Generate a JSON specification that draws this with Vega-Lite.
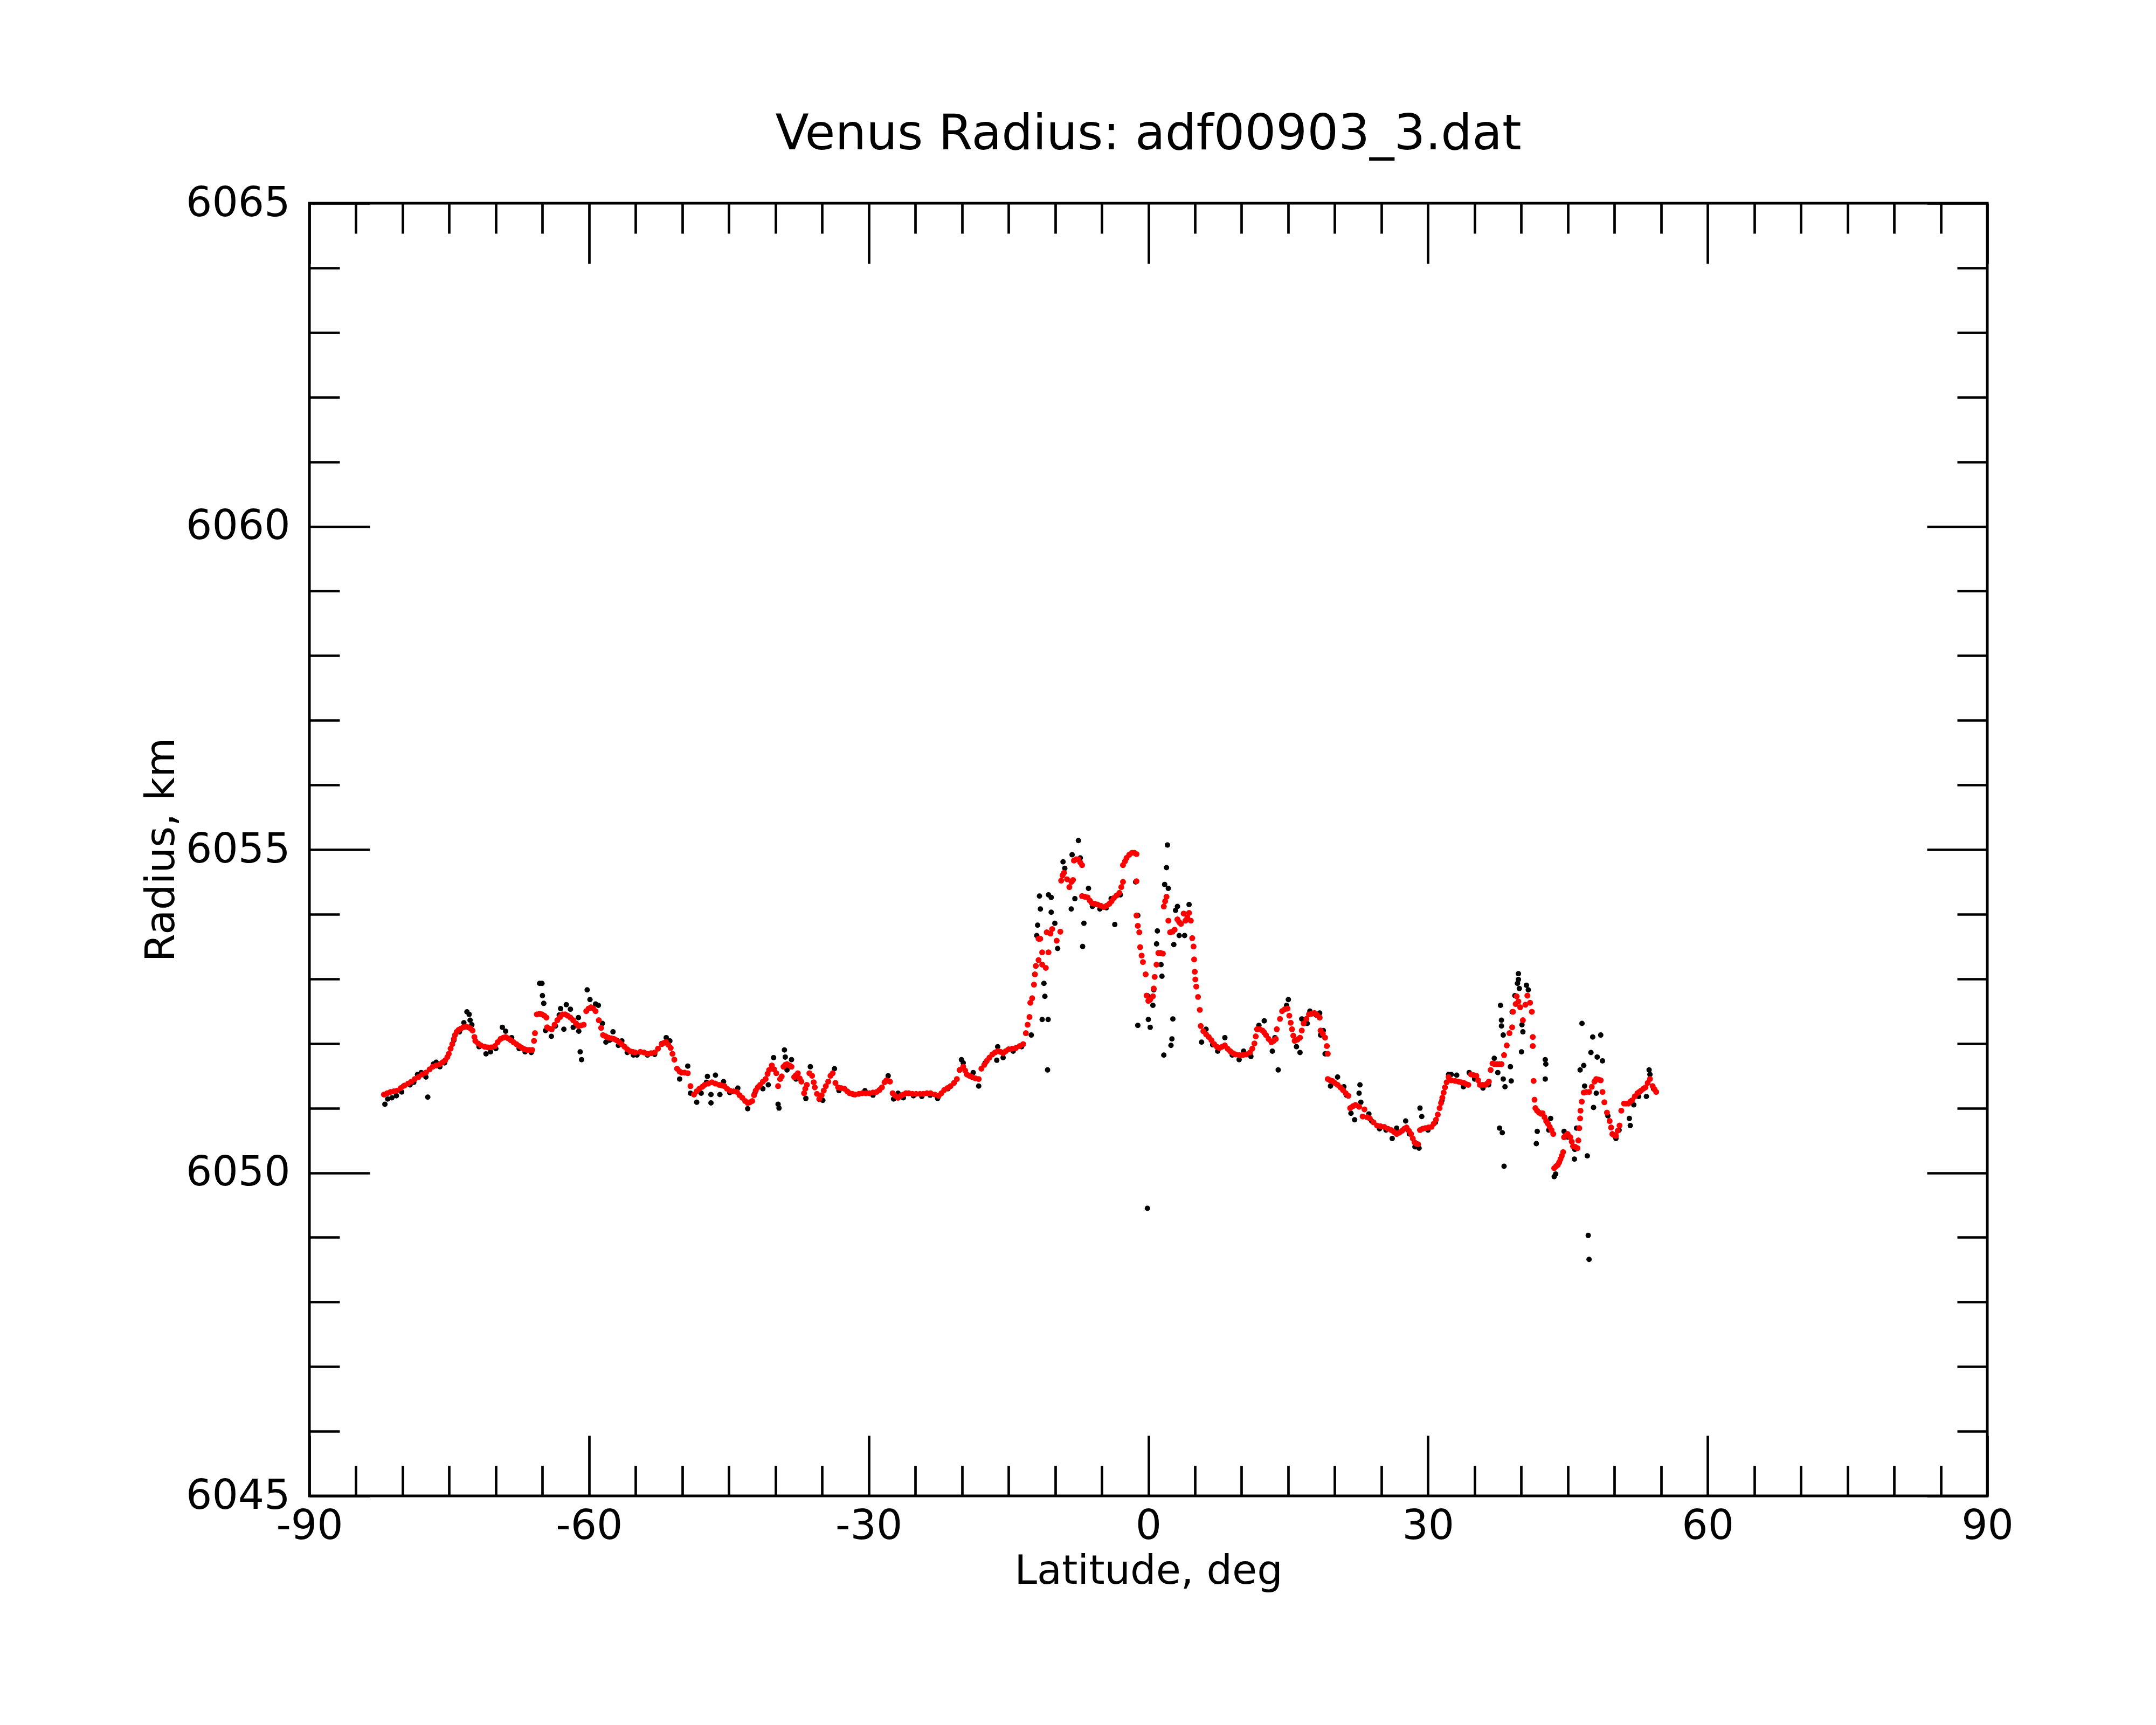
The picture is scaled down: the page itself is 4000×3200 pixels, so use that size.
{
  "$schema": "https://vega.github.io/schema/vega-lite/v6.json",
  "autosize": {"type": "none"},
  "padding": {"left": 574, "top": 377, "right": 313, "bottom": 425},
  "width": 3113,
  "height": 2398,
  "background": "white",
  "title": {
    "text": "Venus Radius: adf00903_3.dat",
    "fontSize": 91,
    "fontWeight": "normal",
    "font": "DejaVu Sans",
    "color": "black",
    "baseline": "alphabetic",
    "anchor": "middle",
    "frame": "group",
    "offset": -29
  },
  "datasets": {
    "black": [
      {"lat":-81.9,"r":6051.06},{"lat":-81.6,"r":6051.14},{"lat":-81.15,"r":6051.16},{"lat":-80.67,"r":6051.19},{"lat":-80.1,"r":6051.25},
      {"lat":-79.9,"r":6051.34},{"lat":-79.2,"r":6051.36},{"lat":-78.8,"r":6051.4},{"lat":-78.4,"r":6051.52},{"lat":-78.0,"r":6051.55},
      {"lat":-77.5,"r":6051.48},{"lat":-77.3,"r":6051.17},{"lat":-76.7,"r":6051.68},{"lat":-76.4,"r":6051.71},{"lat":-76.0,"r":6051.64},
      {"lat":-75.5,"r":6051.7},{"lat":-74.5,"r":6052.05},{"lat":-73.9,"r":6052.18},{"lat":-73.43,"r":6052.32},{"lat":-73.1,"r":6052.49},
      {"lat":-72.86,"r":6052.45},{"lat":-72.76,"r":6052.36},{"lat":-72.57,"r":6052.29},{"lat":-71.8,"r":6051.95},{"lat":-71.05,"r":6051.84},
      {"lat":-70.57,"r":6051.87},{"lat":-70.0,"r":6051.92},{"lat":-69.3,"r":6052.25},{"lat":-68.95,"r":6052.19},{"lat":-68.3,"r":6052.09},
      {"lat":-67.5,"r":6051.92},{"lat":-66.86,"r":6051.87},{"lat":-66.2,"r":6051.86},{"lat":-65.3,"r":6052.93},{"lat":-65.05,"r":6052.93},
      {"lat":-65.0,"r":6052.74},{"lat":-64.86,"r":6052.62},{"lat":-64.67,"r":6052.2},{"lat":-64.04,"r":6052.11},{"lat":-63.6,"r":6052.27},
      {"lat":-63.2,"r":6052.44},{"lat":-63.05,"r":6052.54},{"lat":-62.7,"r":6052.22},{"lat":-62.44,"r":6052.6},{"lat":-62.0,"r":6052.53},
      {"lat":-61.7,"r":6052.25},{"lat":-61.14,"r":6052.4},{"lat":-61.1,"r":6052.19},{"lat":-60.95,"r":6051.87},{"lat":-60.8,"r":6051.75},
      {"lat":-60.2,"r":6052.83},{"lat":-59.9,"r":6052.68},{"lat":-59.3,"r":6052.61},{"lat":-59.0,"r":6052.59},{"lat":-58.57,"r":6052.31},
      {"lat":-58.19,"r":6052.02},{"lat":-57.8,"r":6052.05},{"lat":-57.43,"r":6052.18},{"lat":-56.85,"r":6051.97},{"lat":-56.48,"r":6052.04},
      {"lat":-55.9,"r":6051.86},{"lat":-55.24,"r":6051.82},{"lat":-54.86,"r":6051.82},
      {"lat":-53.73,"r":6051.82},{"lat":-52.96,"r":6051.83},{"lat":-52.2,"r":6052.0},{"lat":-51.72,"r":6052.09},{"lat":-51.33,"r":6052.04},
      {"lat":-50.28,"r":6051.45},{"lat":-49.41,"r":6051.65},{"lat":-49.12,"r":6051.23},{"lat":-48.45,"r":6051.09},{"lat":-47.97,"r":6051.23},
      {"lat":-47.3,"r":6051.49},{"lat":-47.4,"r":6051.4},{"lat":-46.44,"r":6051.51},{"lat":-46.92,"r":6051.21},{"lat":-46.92,"r":6051.08},
      {"lat":-45.96,"r":6051.21},{"lat":-45.57,"r":6051.41},{"lat":-44.9,"r":6051.24},{"lat":-44.04,"r":6051.31},{"lat":-42.98,"r":6050.99},
      {"lat":-42.21,"r":6051.23},{"lat":-41.35,"r":6051.3},{"lat":-40.77,"r":6051.36},{"lat":-40.2,"r":6051.78},{"lat":-39.72,"r":6051.06},
      {"lat":-39.62,"r":6051.0},{"lat":-39.04,"r":6051.9},{"lat":-38.95,"r":6051.79},{"lat":-38.28,"r":6051.75},{"lat":-38.76,"r":6051.59},
      {"lat":-37.8,"r":6051.45},{"lat":-36.74,"r":6051.15},{"lat":-36.26,"r":6051.64},{"lat":-34.92,"r":6051.12},{"lat":-33.67,"r":6051.61},
      {"lat":-33.19,"r":6051.27},{"lat":-31.65,"r":6051.21},{"lat":-30.4,"r":6051.27},{"lat":-29.54,"r":6051.2},{"lat":-27.91,"r":6051.5},
      {"lat":-27.33,"r":6051.14},{"lat":-26.85,"r":6051.23},{"lat":-26.28,"r":6051.16},
      {"lat":-25.2,"r":6051.19},{"lat":-24.3,"r":6051.18},{"lat":-23.4,"r":6051.2},{"lat":-22.6,"r":6051.15},{"lat":-21.5,"r":6051.3},
      {"lat":-20.05,"r":6051.75},{"lat":-19.86,"r":6051.7},{"lat":-18.79,"r":6051.55},{"lat":-18.2,"r":6051.34},{"lat":-17.5,"r":6051.7},
      {"lat":-16.26,"r":6051.74},{"lat":-16.16,"r":6051.95},{"lat":-15.58,"r":6051.78},{"lat":-14.5,"r":6051.88},{"lat":-13.6,"r":6051.95},
      {"lat":-12.56,"r":6052.13},{"lat":-11.97,"r":6053.67},{"lat":-11.88,"r":6053.83},{"lat":-11.68,"r":6054.28},{"lat":-11.58,"r":6054.08},
      {"lat":-11.39,"r":6052.37},{"lat":-11.2,"r":6052.93},{"lat":-11.1,"r":6052.73},{"lat":-10.81,"r":6051.59},{"lat":-10.75,"r":6052.37},
      {"lat":-10.71,"r":6054.3},{"lat":-10.42,"r":6054.26},{"lat":-10.42,"r":6054.03},{"lat":-10.03,"r":6053.86},{"lat":-9.73,"r":6053.47},
      {"lat":-9.15,"r":6054.81},{"lat":-8.96,"r":6054.71},{"lat":-8.27,"r":6054.08},{"lat":-8.18,"r":6054.92},{"lat":-7.88,"r":6054.24},
      {"lat":-7.5,"r":6055.14},{"lat":-7.3,"r":6054.87},{"lat":-7.05,"r":6053.5},{"lat":-6.91,"r":6053.86},{"lat":-6.42,"r":6054.4},
      {"lat":-6.0,"r":6054.12},{"lat":-5.2,"r":6054.08},{"lat":-4.5,"r":6054.1},{"lat":-3.99,"r":6054.24},{"lat":-3.6,"r":6053.84},
      {"lat":-3.0,"r":6054.3},{"lat":-1.36,"r":6054.5},{"lat":-1.13,"r":6053.98},{"lat":-1.13,"r":6052.28},{"lat":-0.1,"r":6052.74},
      {"lat":0.16,"r":6052.67},{"lat":-0.1,"r":6049.45},{"lat":0.0,"r":6052.37},{"lat":0.2,"r":6052.25},{"lat":0.49,"r":6052.59},
      {"lat":0.58,"r":6052.83},{"lat":0.88,"r":6053.54},{"lat":0.97,"r":6053.74},{"lat":1.36,"r":6053.22},{"lat":1.46,"r":6053.04},
      {"lat":1.66,"r":6051.82},{"lat":1.75,"r":6054.46},{"lat":1.95,"r":6054.72},{"lat":2.05,"r":6055.07},{"lat":2.14,"r":6054.4},
      {"lat":2.43,"r":6051.97},{"lat":2.53,"r":6052.07},{"lat":2.63,"r":6052.38},{"lat":2.73,"r":6053.53},{"lat":2.92,"r":6054.06},
      {"lat":3.12,"r":6054.12},{"lat":3.31,"r":6053.67},
      {"lat":3.89,"r":6053.67},{"lat":4.37,"r":6054.15},{"lat":5.71,"r":6052.02},{"lat":6.19,"r":6052.22},{"lat":6.9,"r":6051.98},
      {"lat":7.44,"r":6051.88},{"lat":8.21,"r":6052.09},{"lat":9.0,"r":6051.82},{"lat":9.74,"r":6051.75},{"lat":10.22,"r":6051.88},
      {"lat":11.0,"r":6051.8},{"lat":11.86,"r":6052.28},{"lat":12.43,"r":6052.35},{"lat":13.3,"r":6051.88},{"lat":13.58,"r":6052.09},
      {"lat":13.93,"r":6051.59},{"lat":14.83,"r":6052.59},{"lat":15.02,"r":6052.68},{"lat":15.89,"r":6051.95},{"lat":16.27,"r":6051.86},
      {"lat":16.46,"r":6052.38},{"lat":17.04,"r":6052.31},{"lat":17.33,"r":6052.5},{"lat":18.0,"r":6052.44},{"lat":18.38,"r":6052.47},
      {"lat":18.48,"r":6052.13},{"lat":18.77,"r":6052.2},{"lat":18.96,"r":6051.84},{"lat":19.54,"r":6051.34},{"lat":20.3,"r":6051.48},
      {"lat":20.98,"r":6051.33},{"lat":21.26,"r":6051.2},{"lat":21.74,"r":6050.92},{"lat":22.13,"r":6050.82},{"lat":22.61,"r":6051.23},
      {"lat":22.7,"r":6051.36},{"lat":22.8,"r":6051.09},{"lat":23.66,"r":6050.91},{"lat":23.95,"r":6050.8},{"lat":24.8,"r":6050.68},
      {"lat":25.5,"r":6050.66},{"lat":26.16,"r":6050.53},{"lat":26.64,"r":6050.69},{"lat":27.6,"r":6050.8},{"lat":28.0,"r":6050.6},
      {"lat":28.6,"r":6050.4},{"lat":29.04,"r":6050.38},{"lat":29.14,"r":6051.0},{"lat":29.33,"r":6050.87},{"lat":30.0,"r":6050.66},
      {"lat":30.8,"r":6050.78},{"lat":31.5,"r":6051.12},{"lat":32.21,"r":6051.52},
      {"lat":32.5,"r":6051.52},{"lat":33.08,"r":6051.51},{"lat":33.8,"r":6051.33},{"lat":34.42,"r":6051.55},{"lat":35.0,"r":6051.45},
      {"lat":35.9,"r":6051.31},{"lat":36.5,"r":6051.36},{"lat":37.11,"r":6051.77},{"lat":37.49,"r":6051.55},{"lat":37.68,"r":6050.69},
      {"lat":37.78,"r":6052.59},{"lat":37.88,"r":6052.36},{"lat":37.88,"r":6052.27},{"lat":37.97,"r":6050.62},{"lat":38.07,"r":6052.13},
      {"lat":38.07,"r":6051.45},{"lat":38.16,"r":6050.1},{"lat":38.26,"r":6051.33},{"lat":38.84,"r":6051.64},{"lat":38.93,"r":6051.42},
      {"lat":39.03,"r":6052.49},{"lat":39.32,"r":6052.74},{"lat":39.6,"r":6052.93},{"lat":39.7,"r":6053.08},{"lat":39.7,"r":6052.99},
      {"lat":39.8,"r":6052.85},{"lat":40.03,"r":6051.87},{"lat":40.08,"r":6052.29},{"lat":40.18,"r":6052.18},{"lat":40.56,"r":6052.9},
      {"lat":40.76,"r":6052.83},{"lat":41.62,"r":6050.45},{"lat":41.72,"r":6050.96},{"lat":41.72,"r":6050.64},{"lat":42.1,"r":6050.91},
      {"lat":42.58,"r":6051.75},{"lat":42.64,"r":6051.68},{"lat":42.58,"r":6051.45},{"lat":42.96,"r":6050.66},{"lat":43.16,"r":6050.84},
      {"lat":43.54,"r":6049.94},{"lat":43.7,"r":6049.98},{"lat":44.6,"r":6050.64},{"lat":45.0,"r":6050.55},{"lat":45.71,"r":6050.21},
      {"lat":45.75,"r":6050.36},{"lat":45.94,"r":6050.69},{"lat":46.32,"r":6051.59},{"lat":46.52,"r":6052.31},{"lat":46.71,"r":6051.66},
      {"lat":46.8,"r":6051.34},{"lat":47.09,"r":6050.26},{"lat":47.19,"r":6049.03},{"lat":47.28,"r":6048.66},{"lat":47.48,"r":6051.86},
      {"lat":47.67,"r":6052.1},{"lat":47.76,"r":6051.01},{"lat":48.05,"r":6051.23},{"lat":48.15,"r":6051.79},{"lat":48.53,"r":6052.13},
      {"lat":48.72,"r":6051.73},{"lat":49.3,"r":6050.88},{"lat":50.16,"r":6050.53},{"lat":50.5,"r":6050.66},{"lat":51.6,"r":6050.84},
      {"lat":51.7,"r":6050.73},{"lat":52.08,"r":6051.05},{"lat":52.6,"r":6051.18},{"lat":53.43,"r":6051.18},{"lat":53.72,"r":6051.59},
      {"lat":53.81,"r":6051.52},{"lat":54.2,"r":6051.3}
    ],
    "red": [
      {"lat":-82.0,"r":6051.21},{"lat":-81.65,"r":6051.23},{"lat":-81.3,"r":6051.25},{"lat":-80.95,"r":6051.26},{"lat":-80.6,"r":6051.27},
      {"lat":-80.2,"r":6051.31},{"lat":-79.8,"r":6051.35},{"lat":-79.4,"r":6051.38},{"lat":-79.05,"r":6051.41},{"lat":-78.7,"r":6051.45},
      {"lat":-78.3,"r":6051.48},{"lat":-77.9,"r":6051.52},{"lat":-77.5,"r":6051.55},{"lat":-77.1,"r":6051.6},{"lat":-76.76,"r":6051.64},
      {"lat":-76.4,"r":6051.66},{"lat":-76.0,"r":6051.68},{"lat":-75.7,"r":6051.71},{"lat":-75.43,"r":6051.74},{"lat":-75.2,"r":6051.79},
      {"lat":-75.05,"r":6051.84},{"lat":-74.85,"r":6051.92},{"lat":-74.67,"r":6051.99},{"lat":-74.5,"r":6052.07},{"lat":-74.38,"r":6052.13},
      {"lat":-74.2,"r":6052.18},{"lat":-74.0,"r":6052.21},{"lat":-73.75,"r":6052.23},{"lat":-73.5,"r":6052.25},{"lat":-73.2,"r":6052.26},
      {"lat":-72.95,"r":6052.25},{"lat":-72.7,"r":6052.23},{"lat":-72.5,"r":6052.2},{"lat":-72.3,"r":6052.1},{"lat":-72.2,"r":6052.04},
      {"lat":-71.9,"r":6052.0},{"lat":-71.6,"r":6051.97},{"lat":-71.2,"r":6051.95},{"lat":-70.86,"r":6051.94},{"lat":-70.5,"r":6051.94},
      {"lat":-70.1,"r":6051.96},{"lat":-69.8,"r":6052.02},{"lat":-69.5,"r":6052.07},{"lat":-69.2,"r":6052.09},{"lat":-68.95,"r":6052.1},
      {"lat":-68.7,"r":6052.08},{"lat":-68.4,"r":6052.05},{"lat":-68.1,"r":6052.02},{"lat":-67.8,"r":6051.99},{"lat":-67.5,"r":6051.96},
      {"lat":-67.2,"r":6051.93},{"lat":-66.9,"r":6051.91},{"lat":-66.67,"r":6051.9},{"lat":-66.4,"r":6051.9},{"lat":-66.1,"r":6051.9},
      {"lat":-65.9,"r":6052.04},{"lat":-65.8,"r":6052.16},{"lat":-65.6,"r":6052.45},{"lat":-65.3,"r":6052.46},{"lat":-65.05,"r":6052.45},
      {"lat":-64.8,"r":6052.43},{"lat":-64.57,"r":6052.4},{"lat":-64.5,"r":6052.25},{"lat":-64.25,"r":6052.23},{"lat":-64.0,"r":6052.22},
      {"lat":-63.7,"r":6052.29},{"lat":-63.4,"r":6052.36},{"lat":-63.1,"r":6052.41},{"lat":-62.85,"r":6052.45},{"lat":-62.55,"r":6052.45},
      {"lat":-62.3,"r":6052.43},{"lat":-62.0,"r":6052.4},{"lat":-61.7,"r":6052.36},{"lat":-61.4,"r":6052.31},{"lat":-61.14,"r":6052.27},
      {"lat":-60.85,"r":6052.28},{"lat":-60.57,"r":6052.29},{"lat":-60.3,"r":6052.5},{"lat":-60.05,"r":6052.54},{"lat":-59.8,"r":6052.56},
      {"lat":-59.55,"r":6052.54},{"lat":-59.3,"r":6052.5},{"lat":-58.95,"r":6052.36},{"lat":-58.7,"r":6052.24},{"lat":-58.5,"r":6052.13},
      {"lat":-58.2,"r":6052.11},{"lat":-57.9,"r":6052.09},{"lat":-57.6,"r":6052.08},{"lat":-57.33,"r":6052.07},{"lat":-57.05,"r":6052.05},
      {"lat":-56.76,"r":6052.02},{"lat":-56.5,"r":6051.99},{"lat":-56.19,"r":6051.95},{"lat":-55.9,"r":6051.91},{"lat":-55.6,"r":6051.88},
      {"lat":-55.3,"r":6051.87},{"lat":-55.05,"r":6051.86},
      {"lat":-54.5,"r":6051.87},{"lat":-54.1,"r":6051.86},{"lat":-53.73,"r":6051.84},{"lat":-53.35,"r":6051.85},{"lat":-52.96,"r":6051.86},
      {"lat":-52.6,"r":6051.92},{"lat":-52.2,"r":6051.99},{"lat":-51.95,"r":6052.01},{"lat":-51.72,"r":6052.02},{"lat":-51.5,"r":6051.98},
      {"lat":-51.24,"r":6051.93},{"lat":-51.05,"r":6051.84},{"lat":-50.85,"r":6051.75},{"lat":-50.56,"r":6051.61},{"lat":-50.3,"r":6051.57},
      {"lat":-50.08,"r":6051.55},{"lat":-49.75,"r":6051.55},{"lat":-49.41,"r":6051.54},{"lat":-49.12,"r":6051.34},{"lat":-48.74,"r":6051.21},
      {"lat":-48.45,"r":6051.26},{"lat":-48.16,"r":6051.3},{"lat":-47.85,"r":6051.33},{"lat":-47.59,"r":6051.36},{"lat":-47.2,"r":6051.38},
      {"lat":-46.82,"r":6051.4},{"lat":-46.45,"r":6051.38},{"lat":-46.05,"r":6051.36},{"lat":-45.75,"r":6051.35},{"lat":-45.48,"r":6051.34},
      {"lat":-45.2,"r":6051.3},{"lat":-44.9,"r":6051.27},{"lat":-44.5,"r":6051.26},{"lat":-44.13,"r":6051.25},{"lat":-43.85,"r":6051.2},
      {"lat":-43.56,"r":6051.16},{"lat":-43.25,"r":6051.11},{"lat":-42.98,"r":6051.08},{"lat":-42.75,"r":6051.09},{"lat":-42.5,"r":6051.11},
      {"lat":-42.3,"r":6051.2},{"lat":-42.12,"r":6051.27},{"lat":-41.9,"r":6051.32},{"lat":-41.64,"r":6051.36},{"lat":-41.35,"r":6051.41},
      {"lat":-41.06,"r":6051.45},{"lat":-40.85,"r":6051.53},{"lat":-40.68,"r":6051.59},{"lat":-40.39,"r":6051.66},{"lat":-40.15,"r":6051.6},
      {"lat":-39.91,"r":6051.54},{"lat":-39.72,"r":6051.34},{"lat":-39.5,"r":6051.45},{"lat":-39.33,"r":6051.49},{"lat":-39.14,"r":6051.64},
      {"lat":-38.95,"r":6051.67},{"lat":-38.76,"r":6051.68},{"lat":-38.5,"r":6051.66},{"lat":-38.28,"r":6051.64},{"lat":-37.99,"r":6051.48},
      {"lat":-37.8,"r":6051.51},{"lat":-37.6,"r":6051.54},{"lat":-37.4,"r":6051.46},{"lat":-37.22,"r":6051.41},{"lat":-36.93,"r":6051.23},
      {"lat":-36.8,"r":6051.3},{"lat":-36.64,"r":6051.36},{"lat":-36.36,"r":6051.54},{"lat":-36.07,"r":6051.5},{"lat":-35.9,"r":6051.4},
      {"lat":-35.78,"r":6051.32},{"lat":-35.55,"r":6051.22},{"lat":-35.3,"r":6051.14},{"lat":-35.05,"r":6051.2},{"lat":-34.82,"r":6051.27},
      {"lat":-34.6,"r":6051.34},{"lat":-34.34,"r":6051.41},{"lat":-34.1,"r":6051.5},{"lat":-33.86,"r":6051.54},{"lat":-33.57,"r":6051.39},
      {"lat":-33.28,"r":6051.32},{"lat":-32.95,"r":6051.31},{"lat":-32.61,"r":6051.3},{"lat":-32.3,"r":6051.26},{"lat":-32.04,"r":6051.23},
      {"lat":-31.75,"r":6051.22},{"lat":-31.46,"r":6051.21},{"lat":-31.05,"r":6051.22},{"lat":-30.69,"r":6051.23},{"lat":-30.3,"r":6051.23},
      {"lat":-29.92,"r":6051.23},{"lat":-29.55,"r":6051.24},{"lat":-29.16,"r":6051.25},{"lat":-28.85,"r":6051.28},{"lat":-28.58,"r":6051.32},
      {"lat":-28.3,"r":6051.4},{"lat":-28.1,"r":6051.43},{"lat":-27.9,"r":6051.42},{"lat":-27.72,"r":6051.41},{"lat":-27.43,"r":6051.23},
      {"lat":-27.15,"r":6051.19},{"lat":-26.85,"r":6051.16},{"lat":-26.55,"r":6051.19},{"lat":-26.28,"r":6051.21},{"lat":-26.0,"r":6051.23},
      {"lat":-25.7,"r":6051.23},{"lat":-25.3,"r":6051.22},{"lat":-24.92,"r":6051.22},{"lat":-24.5,"r":6051.22},{"lat":-24.14,"r":6051.22},
      {"lat":-23.75,"r":6051.23},{"lat":-23.36,"r":6051.23},{"lat":-22.9,"r":6051.21},{"lat":-22.49,"r":6051.19},{"lat":-22.2,"r":6051.23},
      {"lat":-21.9,"r":6051.28},{"lat":-21.55,"r":6051.31},{"lat":-21.22,"r":6051.34},{"lat":-20.85,"r":6051.39},{"lat":-20.54,"r":6051.45},
      {"lat":-20.25,"r":6051.59},{"lat":-19.86,"r":6051.64},{"lat":-19.65,"r":6051.58},{"lat":-19.47,"r":6051.52},{"lat":-19.2,"r":6051.5},
      {"lat":-18.89,"r":6051.48},{"lat":-18.55,"r":6051.46},{"lat":-18.2,"r":6051.45},{"lat":-17.91,"r":6051.61},{"lat":-17.6,"r":6051.67},
      {"lat":-17.33,"r":6051.73},{"lat":-17.05,"r":6051.78},{"lat":-16.74,"r":6051.83},{"lat":-16.45,"r":6051.86},{"lat":-16.16,"r":6051.88},
      {"lat":-15.85,"r":6051.87},{"lat":-15.58,"r":6051.85},{"lat":-15.3,"r":6051.88},{"lat":-14.99,"r":6051.91},{"lat":-14.6,"r":6051.92},
      {"lat":-14.21,"r":6051.93},{"lat":-13.8,"r":6051.96},{"lat":-13.43,"r":6051.99},{"lat":-13.14,"r":6052.16},{"lat":-12.95,"r":6052.29},
      {"lat":-12.75,"r":6052.41},{"lat":-12.66,"r":6052.63},{"lat":-12.46,"r":6052.7},{"lat":-12.27,"r":6052.91},{"lat":-12.17,"r":6053.07},
      {"lat":-12.07,"r":6053.2},{"lat":-11.78,"r":6053.29},{"lat":-11.78,"r":6053.62},{"lat":-11.6,"r":6053.62},{"lat":-11.39,"r":6053.41},
      {"lat":-11.39,"r":6053.22},{"lat":-11.0,"r":6053.17},{"lat":-10.9,"r":6053.72},{"lat":-10.71,"r":6053.41},{"lat":-10.5,"r":6053.7},
      {"lat":-10.32,"r":6053.77},{"lat":-9.83,"r":6053.59},{"lat":-9.44,"r":6053.73},{"lat":-9.35,"r":6054.52},{"lat":-9.2,"r":6054.6},
      {"lat":-9.05,"r":6054.64},{"lat":-8.72,"r":6054.54},{"lat":-8.47,"r":6054.42},{"lat":-8.25,"r":6054.5},{"lat":-8.08,"r":6054.53},
      {"lat":-7.98,"r":6054.83},{"lat":-7.75,"r":6054.85},{"lat":-7.5,"r":6054.85},{"lat":-7.3,"r":6054.8},{"lat":-7.11,"r":6054.76},
      {"lat":-7.11,"r":6054.28},{"lat":-6.82,"r":6054.27},{"lat":-6.52,"r":6054.26},{"lat":-6.28,"r":6054.21},{"lat":-6.04,"r":6054.17},
      {"lat":-5.75,"r":6054.16},{"lat":-5.45,"r":6054.15},{"lat":-5.1,"r":6054.13},{"lat":-4.77,"r":6054.11},{"lat":-4.48,"r":6054.13},
      {"lat":-4.19,"r":6054.16},{"lat":-3.95,"r":6054.2},{"lat":-3.7,"r":6054.25},{"lat":-3.4,"r":6054.29},{"lat":-3.11,"r":6054.33},
      {"lat":-2.9,"r":6054.42},{"lat":-2.72,"r":6054.5},{"lat":-2.72,"r":6054.76},{"lat":-2.5,"r":6054.82},{"lat":-2.34,"r":6054.87},
      {"lat":-2.05,"r":6054.92},{"lat":-1.75,"r":6054.95},{"lat":-1.5,"r":6054.95},{"lat":-1.27,"r":6054.93},{"lat":-1.27,"r":6054.51},
      {"lat":-1.27,"r":6053.98},{"lat":-1.13,"r":6053.82},{"lat":-0.97,"r":6053.72},{"lat":-0.88,"r":6053.49},{"lat":-0.72,"r":6053.36},
      {"lat":-0.58,"r":6053.26},{"lat":-0.29,"r":6053.07},{"lat":-0.19,"r":6052.74},{"lat":0.0,"r":6052.66},{"lat":0.2,"r":6052.68},
      {"lat":0.49,"r":6052.73},{"lat":0.58,"r":6052.85},{"lat":0.68,"r":6053.03},{"lat":0.88,"r":6053.22},{"lat":1.07,"r":6053.4},
      {"lat":1.3,"r":6053.4},{"lat":1.56,"r":6053.39},{"lat":1.66,"r":6054.12},{"lat":1.8,"r":6054.2},{"lat":1.95,"r":6054.27},
      {"lat":2.15,"r":6053.9},{"lat":2.34,"r":6053.72},{"lat":2.6,"r":6053.73},{"lat":2.82,"r":6053.76},{"lat":3.12,"r":6053.92},
      {"lat":3.3,"r":6053.88},{"lat":3.5,"r":6053.85},
      {"lat":3.79,"r":6054.01},{"lat":3.98,"r":6053.9},{"lat":4.18,"r":6053.95},{"lat":4.37,"r":6054.02},{"lat":4.56,"r":6053.9},
      {"lat":4.71,"r":6053.63},{"lat":4.85,"r":6053.5},{"lat":4.91,"r":6053.3},{"lat":4.98,"r":6053.11},{"lat":5.04,"r":6052.99},
      {"lat":5.14,"r":6052.88},{"lat":5.33,"r":6052.72},{"lat":5.52,"r":6052.52},{"lat":5.62,"r":6052.27},{"lat":5.9,"r":6052.19},
      {"lat":6.2,"r":6052.14},{"lat":6.48,"r":6052.1},{"lat":6.77,"r":6052.05},{"lat":7.06,"r":6051.99},{"lat":7.35,"r":6051.95},
      {"lat":7.63,"r":6051.93},{"lat":7.92,"r":6051.95},{"lat":8.21,"r":6051.97},{"lat":8.5,"r":6051.92},{"lat":8.78,"r":6051.88},
      {"lat":9.07,"r":6051.85},{"lat":9.36,"r":6051.83},{"lat":9.75,"r":6051.82},{"lat":10.13,"r":6051.82},{"lat":10.5,"r":6051.83},
      {"lat":10.9,"r":6051.86},{"lat":11.15,"r":6051.92},{"lat":11.38,"r":6052.0},{"lat":11.52,"r":6052.11},{"lat":11.66,"r":6052.22},
      {"lat":11.95,"r":6052.22},{"lat":12.24,"r":6052.2},{"lat":12.43,"r":6052.17},{"lat":12.62,"r":6052.13},{"lat":12.9,"r":6052.07},
      {"lat":13.2,"r":6052.02},{"lat":13.45,"r":6052.04},{"lat":13.68,"r":6052.07},{"lat":13.78,"r":6052.22},{"lat":14.12,"r":6052.38},
      {"lat":14.35,"r":6052.5},{"lat":14.64,"r":6052.53},{"lat":14.93,"r":6052.54},{"lat":15.12,"r":6052.43},{"lat":15.27,"r":6052.32},
      {"lat":15.41,"r":6052.22},{"lat":15.55,"r":6052.12},{"lat":15.7,"r":6052.04},{"lat":16.0,"r":6052.06},{"lat":16.27,"r":6052.09},
      {"lat":16.46,"r":6052.2},{"lat":16.66,"r":6052.31},{"lat":16.95,"r":6052.38},{"lat":17.23,"r":6052.45},{"lat":17.52,"r":6052.46},
      {"lat":17.81,"r":6052.47},{"lat":18.1,"r":6052.44},{"lat":18.38,"r":6052.4},{"lat":18.48,"r":6052.2},{"lat":18.72,"r":6052.15},
      {"lat":18.96,"r":6052.09},{"lat":19.15,"r":6051.96},{"lat":19.25,"r":6051.84},{"lat":19.25,"r":6051.45},{"lat":19.5,"r":6051.43},
      {"lat":19.73,"r":6051.42},{"lat":20.0,"r":6051.39},{"lat":20.3,"r":6051.36},{"lat":20.6,"r":6051.32},{"lat":20.88,"r":6051.28},
      {"lat":21.17,"r":6051.23},{"lat":21.46,"r":6051.19},{"lat":21.65,"r":6051.0},{"lat":21.95,"r":6051.03},{"lat":22.22,"r":6051.05},
      {"lat":22.61,"r":6051.02},{"lat":22.99,"r":6050.87},{"lat":23.18,"r":6050.98},{"lat":23.47,"r":6050.86},{"lat":23.76,"r":6050.84},
      {"lat":24.15,"r":6050.78},{"lat":24.53,"r":6050.73},{"lat":24.9,"r":6050.72},{"lat":25.3,"r":6050.71},{"lat":25.7,"r":6050.68},
      {"lat":26.06,"r":6050.66},{"lat":26.35,"r":6050.63},{"lat":26.64,"r":6050.6},{"lat":26.93,"r":6050.62},{"lat":27.22,"r":6050.65},
      {"lat":27.46,"r":6050.68},{"lat":27.7,"r":6050.7},{"lat":27.95,"r":6050.65},{"lat":28.18,"r":6050.6},{"lat":28.37,"r":6050.53},
      {"lat":28.56,"r":6050.47},{"lat":28.75,"r":6050.45},{"lat":28.94,"r":6050.44},{"lat":29.14,"r":6050.66},{"lat":29.42,"r":6050.68},
      {"lat":29.71,"r":6050.69},{"lat":30.05,"r":6050.7},{"lat":30.38,"r":6050.71},{"lat":30.62,"r":6050.76},{"lat":30.86,"r":6050.82},
      {"lat":31.05,"r":6050.9},{"lat":31.25,"r":6051.0},{"lat":31.4,"r":6051.08},{"lat":31.54,"r":6051.16},{"lat":31.68,"r":6051.24},
      {"lat":31.82,"r":6051.32},{"lat":32.0,"r":6051.4},{"lat":32.21,"r":6051.48},
      {"lat":32.5,"r":6051.43},{"lat":32.9,"r":6051.42},{"lat":33.27,"r":6051.41},{"lat":33.55,"r":6051.4},{"lat":33.84,"r":6051.39},
      {"lat":34.1,"r":6051.37},{"lat":34.32,"r":6051.36},{"lat":34.61,"r":6051.52},{"lat":34.9,"r":6051.51},{"lat":35.19,"r":6051.5},
      {"lat":35.38,"r":6051.43},{"lat":35.57,"r":6051.36},{"lat":35.86,"r":6051.36},{"lat":36.15,"r":6051.36},{"lat":36.35,"r":6051.38},
      {"lat":36.53,"r":6051.41},{"lat":36.72,"r":6051.59},{"lat":36.92,"r":6051.69},{"lat":37.15,"r":6051.68},{"lat":37.4,"r":6051.68},
      {"lat":37.65,"r":6051.68},{"lat":37.88,"r":6051.68},{"lat":38.16,"r":6051.82},{"lat":38.45,"r":6051.97},{"lat":38.74,"r":6052.16},
      {"lat":39.03,"r":6052.25},{"lat":39.12,"r":6052.49},{"lat":39.41,"r":6052.61},{"lat":39.51,"r":6052.73},{"lat":39.7,"r":6052.65},
      {"lat":39.89,"r":6052.56},{"lat":40.18,"r":6052.36},{"lat":40.45,"r":6052.6},{"lat":40.66,"r":6052.74},{"lat":40.95,"r":6052.63},
      {"lat":41.14,"r":6052.49},{"lat":41.24,"r":6052.1},{"lat":41.24,"r":6051.96},{"lat":41.33,"r":6051.42},{"lat":41.43,"r":6051.13},
      {"lat":41.52,"r":6051.0},{"lat":41.7,"r":6050.96},{"lat":41.91,"r":6050.93},{"lat":42.1,"r":6050.92},{"lat":42.29,"r":6050.92},
      {"lat":42.5,"r":6050.86},{"lat":42.68,"r":6050.8},{"lat":42.87,"r":6050.76},{"lat":43.06,"r":6050.71},{"lat":43.25,"r":6050.66},
      {"lat":43.44,"r":6050.6},{"lat":43.54,"r":6050.07},{"lat":43.74,"r":6050.1},{"lat":43.92,"r":6050.12},{"lat":44.07,"r":6050.16},
      {"lat":44.21,"r":6050.21},{"lat":44.35,"r":6050.26},{"lat":44.5,"r":6050.32},{"lat":44.6,"r":6050.55},{"lat":44.8,"r":6050.58},
      {"lat":44.98,"r":6050.6},{"lat":45.27,"r":6050.55},{"lat":45.42,"r":6050.48},{"lat":45.56,"r":6050.41},{"lat":45.8,"r":6050.4},
      {"lat":46.04,"r":6050.38},{"lat":46.13,"r":6050.5},{"lat":46.23,"r":6050.69},{"lat":46.32,"r":6050.84},{"lat":46.36,"r":6050.96},
      {"lat":46.5,"r":6051.1},{"lat":46.71,"r":6051.24},{"lat":47.0,"r":6051.25},{"lat":47.28,"r":6051.25},{"lat":47.57,"r":6051.33},
      {"lat":47.86,"r":6051.41},{"lat":48.05,"r":6051.45},{"lat":48.3,"r":6051.44},{"lat":48.53,"r":6051.43},{"lat":48.72,"r":6051.25},
      {"lat":48.92,"r":6051.09},{"lat":49.2,"r":6050.93},{"lat":49.49,"r":6050.8},{"lat":49.64,"r":6050.7},{"lat":49.78,"r":6050.6},
      {"lat":49.97,"r":6050.58},{"lat":50.16,"r":6050.57},{"lat":50.35,"r":6050.65},{"lat":50.55,"r":6050.73},{"lat":50.74,"r":6050.96},
      {"lat":51.03,"r":6051.07},{"lat":51.27,"r":6051.07},{"lat":51.51,"r":6051.07},{"lat":51.7,"r":6051.1},{"lat":51.89,"r":6051.12},
      {"lat":52.18,"r":6051.18},{"lat":52.47,"r":6051.23},{"lat":52.66,"r":6051.25},{"lat":52.85,"r":6051.27},{"lat":53.1,"r":6051.3},
      {"lat":53.33,"r":6051.32},{"lat":53.57,"r":6051.39},{"lat":53.81,"r":6051.45},{"lat":54.1,"r":6051.34},{"lat":54.3,"r":6051.29},
      {"lat":54.48,"r":6051.25}
    ]
  },
  "layer": [
    {
      "data": {"name": "black"},
      "mark": {"type": "circle", "color": "black", "opacity": 1, "size": 100},
      "encoding": {
        "x": {
          "field": "lat",
          "type": "quantitative",
          "scale": {"domain": [-90, 90], "nice": false, "zero": false},
          "axis": {
            "orient": "bottom",
            "title": "Latitude, deg",
            "titlePadding": 9,
            "values": [-90,-85,-80,-75,-70,-65,-60,-55,-50,-45,-40,-35,-30,-25,-20,-15,-10,-5,0,5,10,15,20,25,30,35,40,45,50,55,60,65,70,75,80,85,90],
            "tickSize": {"condition": {"test": "datum.value % 30 === 0", "value": -112}, "value": -56},
            "labelPadding": {"condition": {"test": "datum.value % 30 === 0", "value": 131}, "value": 75},
            "labelExpr": "datum.value % 30 === 0 ? '' + datum.value : ''"
          }
        },
        "y": {
          "field": "r",
          "type": "quantitative",
          "scale": {"domain": [6045, 6065], "nice": false, "zero": false},
          "axis": {
            "orient": "left",
            "title": "Radius, km",
            "titlePadding": 36,
            "values": [6045,6046,6047,6048,6049,6050,6051,6052,6053,6054,6055,6056,6057,6058,6059,6060,6061,6062,6063,6064,6065],
            "tickSize": {"condition": {"test": "datum.value % 5 === 0", "value": -112}, "value": -56},
            "labelPadding": {"condition": {"test": "datum.value % 5 === 0", "value": 148}, "value": 92},
            "labelExpr": "datum.value % 5 === 0 ? '' + datum.value : ''"
          }
        }
      }
    },
    {
      "data": {"name": "red"},
      "mark": {"type": "circle", "color": "#ff0000", "opacity": 1, "size": 120},
      "encoding": {
        "x": {
          "field": "lat",
          "type": "quantitative",
          "axis": {
            "orient": "top",
            "title": null,
            "labels": false,
            "values": [-90,-85,-80,-75,-70,-65,-60,-55,-50,-45,-40,-35,-30,-25,-20,-15,-10,-5,0,5,10,15,20,25,30,35,40,45,50,55,60,65,70,75,80,85,90],
            "tickSize": {"condition": {"test": "datum.value % 30 === 0", "value": -112}, "value": -56}
          }
        },
        "y": {
          "field": "r",
          "type": "quantitative",
          "axis": {
            "orient": "right",
            "title": null,
            "labels": false,
            "values": [6045,6046,6047,6048,6049,6050,6051,6052,6053,6054,6055,6056,6057,6058,6059,6060,6061,6062,6063,6064,6065],
            "tickSize": {"condition": {"test": "datum.value % 5 === 0", "value": -112}, "value": -56}
          }
        }
      }
    }
  ],
  "resolve": {"axis": {"x": "independent", "y": "independent"}},
  "config": {
    "font": "DejaVu Sans",
    "view": {"stroke": "black", "strokeWidth": 5},
    "axis": {
      "domain": false,
      "grid": false,
      "ticks": true,
      "tickColor": "black",
      "tickWidth": 4.7,
      "labelFont": "DejaVu Sans",
      "labelFontSize": 76,
      "labelColor": "black",
      "labelLimit": 1000,
      "labelFlush": false,
      "labelOverlap": false,
      "labelBound": false,
      "titleFont": "DejaVu Sans",
      "titleFontSize": 75,
      "titleFontWeight": "normal",
      "titleColor": "black"
    }
  }
}
